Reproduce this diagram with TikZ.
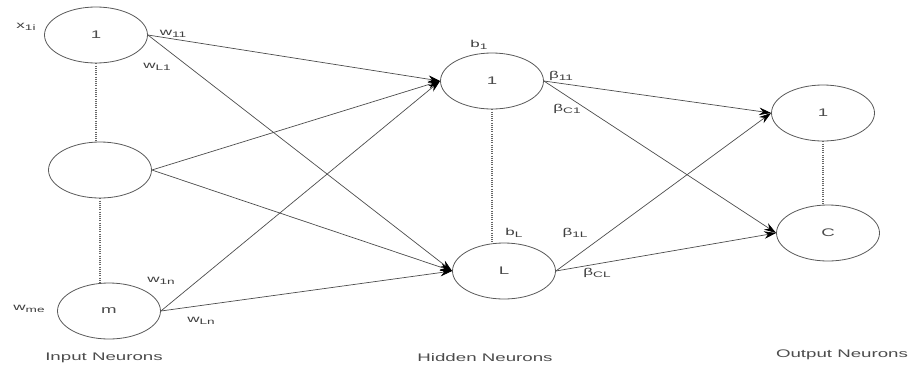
\documentclass[tikz,border=0pt]{standalone}
\usepackage{fontspec}
\setmainfont{Liberation Sans}
\newfontfamily\widesans[FakeStretch=1.7]{Liberation Sans}
\newcommand\lsub[1]{\raisebox{-0.45ex}{\fontsize{8}{8}\selectfont #1}}
\usetikzlibrary{arrows.meta,shapes.geometric}
\begin{document}
\begin{tikzpicture}[x=1pt,y=-1pt,
  neuron/.style={ellipse,draw=black!65,line width=0.8pt,minimum width=103pt,minimum height=56pt,inner sep=0pt,font=\widesans\fontsize{11}{12}\selectfont,text=black!70},
  conn/.style={draw=black!70,line width=0.7pt,-{Stealth[length=12pt,width=7.5pt,color=black]}},
  dots/.style={draw=black!60,line width=1.2pt,dash pattern=on 0.8pt off 1.4pt},
  lbl/.style={font=\widesans\fontsize{10}{11}\selectfont,text=black!75,inner sep=0pt},
  layercap/.style={font=\widesans\fontsize{11}{12}\selectfont,text=black!70,inner sep=0pt}]
\useasboundingbox (0,0) rectangle (920,370);
\node[neuron] (i1) at (96,35) {1};
\node[neuron] (i2) at (100,170) {};
\node[neuron] (im) at (109,311) {m};
\node[neuron] (h1) at (492,81) {1};
\node[neuron] (hL) at (504,271) {L};
\node[neuron] (o1) at (823,113) {1};
\node[neuron] (oC) at (828,233) {C};
% dotted
\draw[dots] (i1.south) -- (i2.north -| i1.south);
\draw[dots] (i2.south) -- (im.north -| i2.south);
\draw[dots] (h1.south) -- (hL.north -| h1.south);
\draw[dots] (o1.south) -- (oC.north -| o1.south);
% input to hidden
\foreach \s in {i1,i2,im}{
  \draw[conn] (\s.east) -- (h1.west);
  \draw[conn] (\s.east) -- (hL.west);
}
% hidden to output
\foreach \s in {h1,hL}{
  \draw[conn] (\s.east) -- (o1.west);
  \draw[conn] (\s.east) -- (oC.west);
}
% labels
\node[lbl] (lx) at (26,27) {x\lsub{1i}};
\node[lbl] (lwm) at (29,309) {w\lsub{me}};
\node[lbl] (lw11) at (173,34) {w\lsub{11}};
\node[lbl] (lwL1) at (157,67) {w\lsub{L1}};
\node[lbl] (lw1n) at (161,281) {w\lsub{1n}};
\node[lbl] (lwLn) at (201,321) {w\lsub{Ln}};
\node[lbl] (lb1) at (479,45) {b\lsub{1}};
\node[lbl] (lb11) at (561,76) {β\lsub{11}};
\node[lbl] (lbC1) at (567,109) {β\lsub{C1}};
\node[lbl] (lbL) at (514,233) {b\lsub{L}};
\node[lbl] (lb1L) at (575,233) {β\lsub{1L}};
\node[lbl] (lbCL) at (597,273) {β\lsub{CL}};
\node[layercap] (ci) at (104,358) {Input Neurons};
\node[layercap] (ch) at (485,358) {Hidden Neurons};
\node[layercap] (co) at (842,355) {Output Neurons};
\end{tikzpicture}
\end{document}
